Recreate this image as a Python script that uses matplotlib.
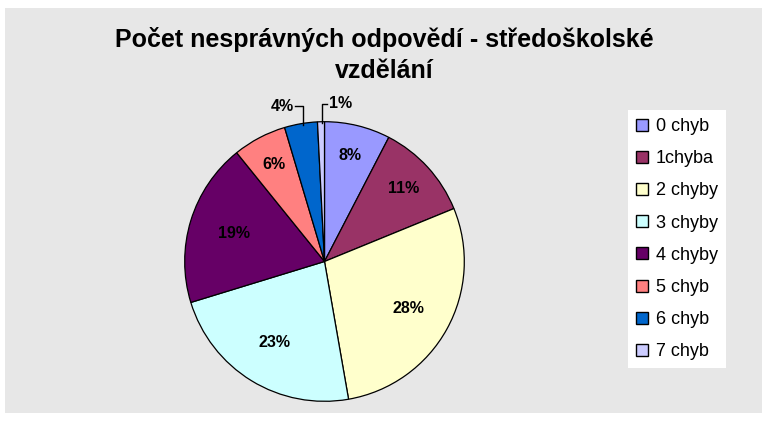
import numpy as np
import matplotlib.pyplot as plt
from matplotlib.patches import Patch, Rectangle

# hodnoty (procenta)
kategorie = ['0 chyb', '1chyba', '2 chyby', '3 chyby', '4 chyby', '5 chyb', '6 chyb', '7 chyb']
podily = [7.6, 11.2, 28.4, 23.0, 18.9, 6.2, 3.8, 0.8]
barvy = ['#9999ff', '#993366', '#ffffcc', '#ccffff', '#660066', '#ff8080', '#0066cc', '#ccccff']
titulek = 'Počet nesprávných odpovědí - středoškolské\nvzdělání'

plt.rcParams['font.family'] = ['Liberation Sans', 'DejaVu Sans']

fig = plt.figure(figsize=(7.68, 4.22), dpi=100, facecolor='white')
# šedé pozadí oblasti grafu
fig.patches.append(Rectangle((5 / 768, 9 / 422), 757 / 768, 405 / 422,
                             transform=fig.transFigure, facecolor='#e7e7e7',
                             edgecolor='none', zorder=-10))

ax = fig.add_axes([184 / 768, 20 / 422, 281 / 768, 281 / 422])
ax.set_zorder(2)

wedges, _ = ax.pie(podily, colors=barvy, startangle=90, counterclock=False,
                   radius=1, wedgeprops=dict(edgecolor='black', linewidth=0.9))
ax.set_xlim(-1.005, 1.005)
ax.set_ylim(-1.005, 1.005)
ax.set_aspect('equal')
ax.axis('off')

celkem = sum(podily)
vzdalenost = [0.78, 0.77, 0.69, 0.68, 0.68, 0.78]
for i, w in enumerate(wedges):
    mid = np.deg2rad((w.theta1 + w.theta2) / 2)
    txt = '%.0f%%' % (podily[i] / celkem * 100)
    if i < 6:
        r = vzdalenost[i]
        ax.text(r * np.cos(mid), r * np.sin(mid), txt, ha='center', va='center',
                fontsize=11.5, fontweight='bold', color='black')

# popisky s vodicí čarou pro malé výseče
w = wedges[6]
mid = np.deg2rad((w.theta1 + w.theta2) / 2)
x0 = np.cos(mid) * 0.9
y0 = np.sqrt(1 - x0 ** 2)
ax.plot([x0, x0, -0.21], [y0 - 0.01, 1.11, 1.11], color='black', lw=1, clip_on=False)
ax.text(-0.22, 1.11, '%.0f%%' % (podily[6] / celkem * 100), ha='right', va='center',
        fontsize=11.5, fontweight='bold')

w = wedges[7]
mid = np.deg2rad((w.theta1 + w.theta2) / 2)
x1 = np.cos(mid) * 0.6
y1 = np.sqrt(1 - x1 ** 2)
ax.plot([x1, x1, 0.02], [y1 - 0.01, 1.13, 1.13], color='black', lw=1, clip_on=False)
ax.text(0.03, 1.13, '%.0f%%' % (podily[7] / celkem * 100), ha='left', va='center',
        fontsize=11.5, fontweight='bold')

fig.text(0.5, 1 - 55 / 422, titulek, ha='center', va='center', fontsize=18,
         fontweight='bold', linespacing=1.35)

handles = [Patch(facecolor=c, edgecolor='black', linewidth=1) for c in barvy]
leg = fig.legend(handles, kategorie, loc='upper left', bbox_to_anchor=(628 / 768, 312 / 422),
                 fontsize=13, frameon=True, fancybox=False, edgecolor='white',
                 facecolor='white', framealpha=1, handlelength=0.65, handleheight=0.65,
                 handletextpad=0.45, labelspacing=0.84, borderpad=0.45, borderaxespad=0)
leg.get_frame().set_linewidth(0)

fig.savefig('out.png', dpi=100, facecolor='white')
